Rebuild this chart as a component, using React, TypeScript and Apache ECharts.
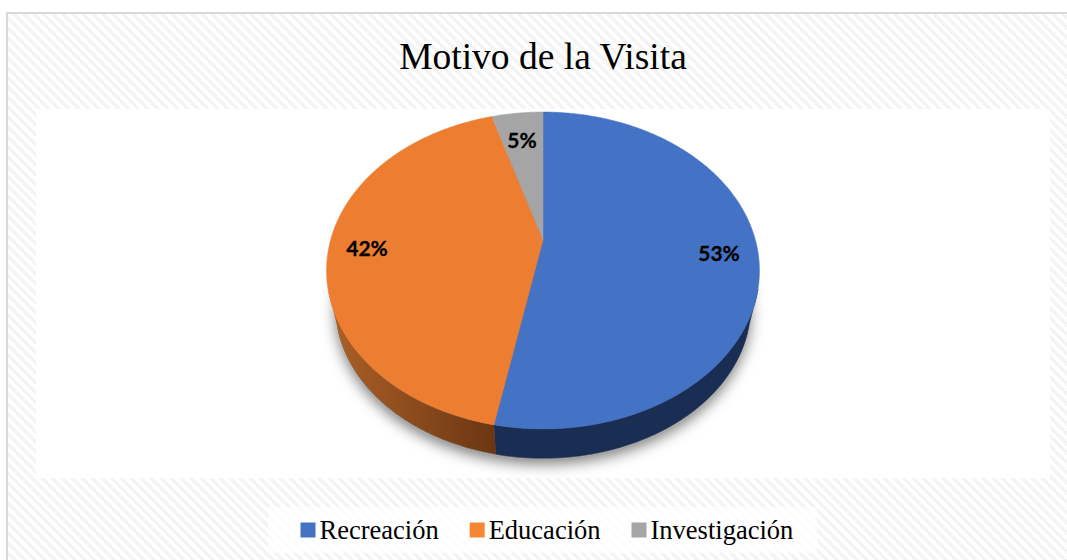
import React, { useEffect, useRef } from "react";
import * as echarts from "echarts";

const categories = ["Recreación", "Educación", "Investigación"];
const values = [53, 42.4, 4.6];
const faceColors = ["#4472c4", "#ed7d31", "#a5a5a5"];
const legendColors = ["#4472c4", "#f58633", "#a5a5a5"];
const titleText = "Motivo de la Visita";

const W = 1067;
const H = 560;
const total = values.reduce((a, b) => a + b, 0);

// Projective view of a tilted disc
const CX = 543;
const APEX_Y = 240;
const K = 0.1924;
const A = 212.4;
const B = 152.6;
const ELL_CY = 270.5;
const DEPTH_SCALE = 0.96;
const BOTTOM_CY = 306;

function facePoint(theta: number): [number, number] {
  const u = Math.sin(theta);
  const v = -Math.cos(theta);
  const d = 1 - K * v;
  return [CX + (A * u) / d, APEX_Y + (B * v) / d];
}
function basePoint(theta: number): [number, number] {
  const [x, y] = facePoint(theta);
  return [CX + (x - CX) * DEPTH_SCALE, BOTTOM_CY + (y - ELL_CY) * DEPTH_SCALE];
}
function arc(fn: (t: number) => [number, number], a: number, b: number) {
  const n = Math.max(2, Math.ceil(Math.abs(b - a) / 0.01));
  const pts: [number, number][] = [];
  for (let i = 0; i <= n; i++) pts.push(fn(a + ((b - a) * i) / n));
  return pts;
}

const labelSpots: [number, number][] = [
  [719, 252],
  [367, 247],
  [522, 139],
];

function makeSliceRenderer(i: number) {
  return function renderSlice(_params: any, api: any) {
    const before = values.slice(0, i).reduce((a, b) => a + b, 0);
    const a0 = (before / total) * Math.PI * 2;
    const a1 = ((before + api.value(0)) / total) * Math.PI * 2;
    const facePts = [[CX, APEX_Y], ...arc(facePoint, a0, a1)];
    return {
      type: "group",
      children: [
        {
          type: "polygon",
          z2: 5,
          shape: { points: facePts },
          style: { fill: faceColors[i], stroke: faceColors[i], lineWidth: 0.5 },
        },
        {
          type: "text",
          z2: 10,
          style: {
            text: `${Math.round((api.value(0) / total) * 100)}%`,
            x: labelSpots[i][0],
            y: labelSpots[i][1],
            align: "center",
            verticalAlign: "middle",
            fill: "#000000",
            stroke: "#000000",
            lineWidth: 0.3,
            font: "700 21px Lato",
          },
        },
      ],
    };
  };
}

function renderWalls() {
  const base = arc(basePoint, 0, Math.PI * 2);
  const startR = 1.88;
  const mid = (values[0] / total) * Math.PI * 2;
  const endL = 4.4;
  const wall = (a: number, b: number) => [
    ...arc(facePoint, a, b),
    ...arc(basePoint, b, a),
  ];
  return {
    type: "group",
    children: [
      {
        type: "polygon",
        z2: 1,
        shape: { points: base.map(([x, y]) => [x, y + 1]) },
        style: {
          fill: "#8a8a8a",
          shadowBlur: 14,
          shadowColor: "rgba(0,0,0,0.5)",
          shadowOffsetY: 5,
        },
      },
      {
        type: "polygon",
        z2: 3,
        shape: { points: wall(startR, mid) },
        style: { fill: "#1a2d52", stroke: "#1a2d52", lineWidth: 0.5 },
      },
      {
        type: "polygon",
        z2: 3,
        shape: { points: wall(mid, endL) },
        style: {
          fill: new echarts.graphic.LinearGradient(0, 0, 1, 0, [
            { offset: 0, color: "#ad6128" },
            { offset: 1, color: "#6b3612" },
          ]),
        },
      },
    ],
  };
}

export default function App() {
  const ref = useRef<HTMLDivElement>(null);
  useEffect(() => {
    const chart = echarts.init(ref.current!, null, { renderer: "svg" });
    chart.setOption({
      animation: false,
      backgroundColor: "transparent",
      title: {
        text: titleText,
        left: 538,
        top: 32,
        textAlign: "center",
        textStyle: { fontFamily: "Liberation Serif", fontSize: 37.5, fontWeight: 400, color: "#000000" },
      },
      legend: {
        data: categories,
        left: 268,
        top: 507,
        orient: "horizontal",
        padding: [9.5, 24, 9.5, 32.5],
        itemWidth: 15,
        itemHeight: 15,
        itemGap: 31,
        icon: "rect",
        backgroundColor: "rgba(255,255,255,0.75)",
        selectedMode: false,
        textStyle: { fontFamily: "Liberation Serif", fontSize: 26.5, color: "#000000", padding: [0, 0, 0, -1] },
      },
      graphic: [
        {
          type: "rect",
          z: -10,
          shape: { x: 36, y: 109, width: 1014, height: 369 },
          style: { fill: "#ffffff" },
        },
      ],
      series: [
        {
          type: "custom",
          name: "_walls",
          coordinateSystem: "none",
          z: 1,
          silent: true,
          data: [0],
          renderItem: renderWalls,
        },
        ...categories.map((name, i) => ({
          type: "custom",
          name,
          coordinateSystem: "none",
          z: 2,
          silent: true,
          itemStyle: { color: legendColors[i] },
          data: [values[i]],
          renderItem: makeSliceRenderer(i),
        })),
      ],
    });
    return () => chart.dispose();
  }, []);
  return (
    <div style={{ position: "fixed", left: 0, top: 0, width: W, height: H, background: "#ffffff", overflow: "hidden" }}>
      <div
        style={{
          position: "absolute",
          left: 6,
          top: 12,
          width: 1080,
          height: 560,
          boxSizing: "border-box",
          border: "2px solid #d9d9d9",
          background: "repeating-linear-gradient(45deg, #ffffff 0 3.5px, #f4f4f4 3.5px 7px)",
        }}
      />
      <div ref={ref} style={{ position: "absolute", left: 0, top: 0, width: W, height: H }} />
    </div>
  );
}
